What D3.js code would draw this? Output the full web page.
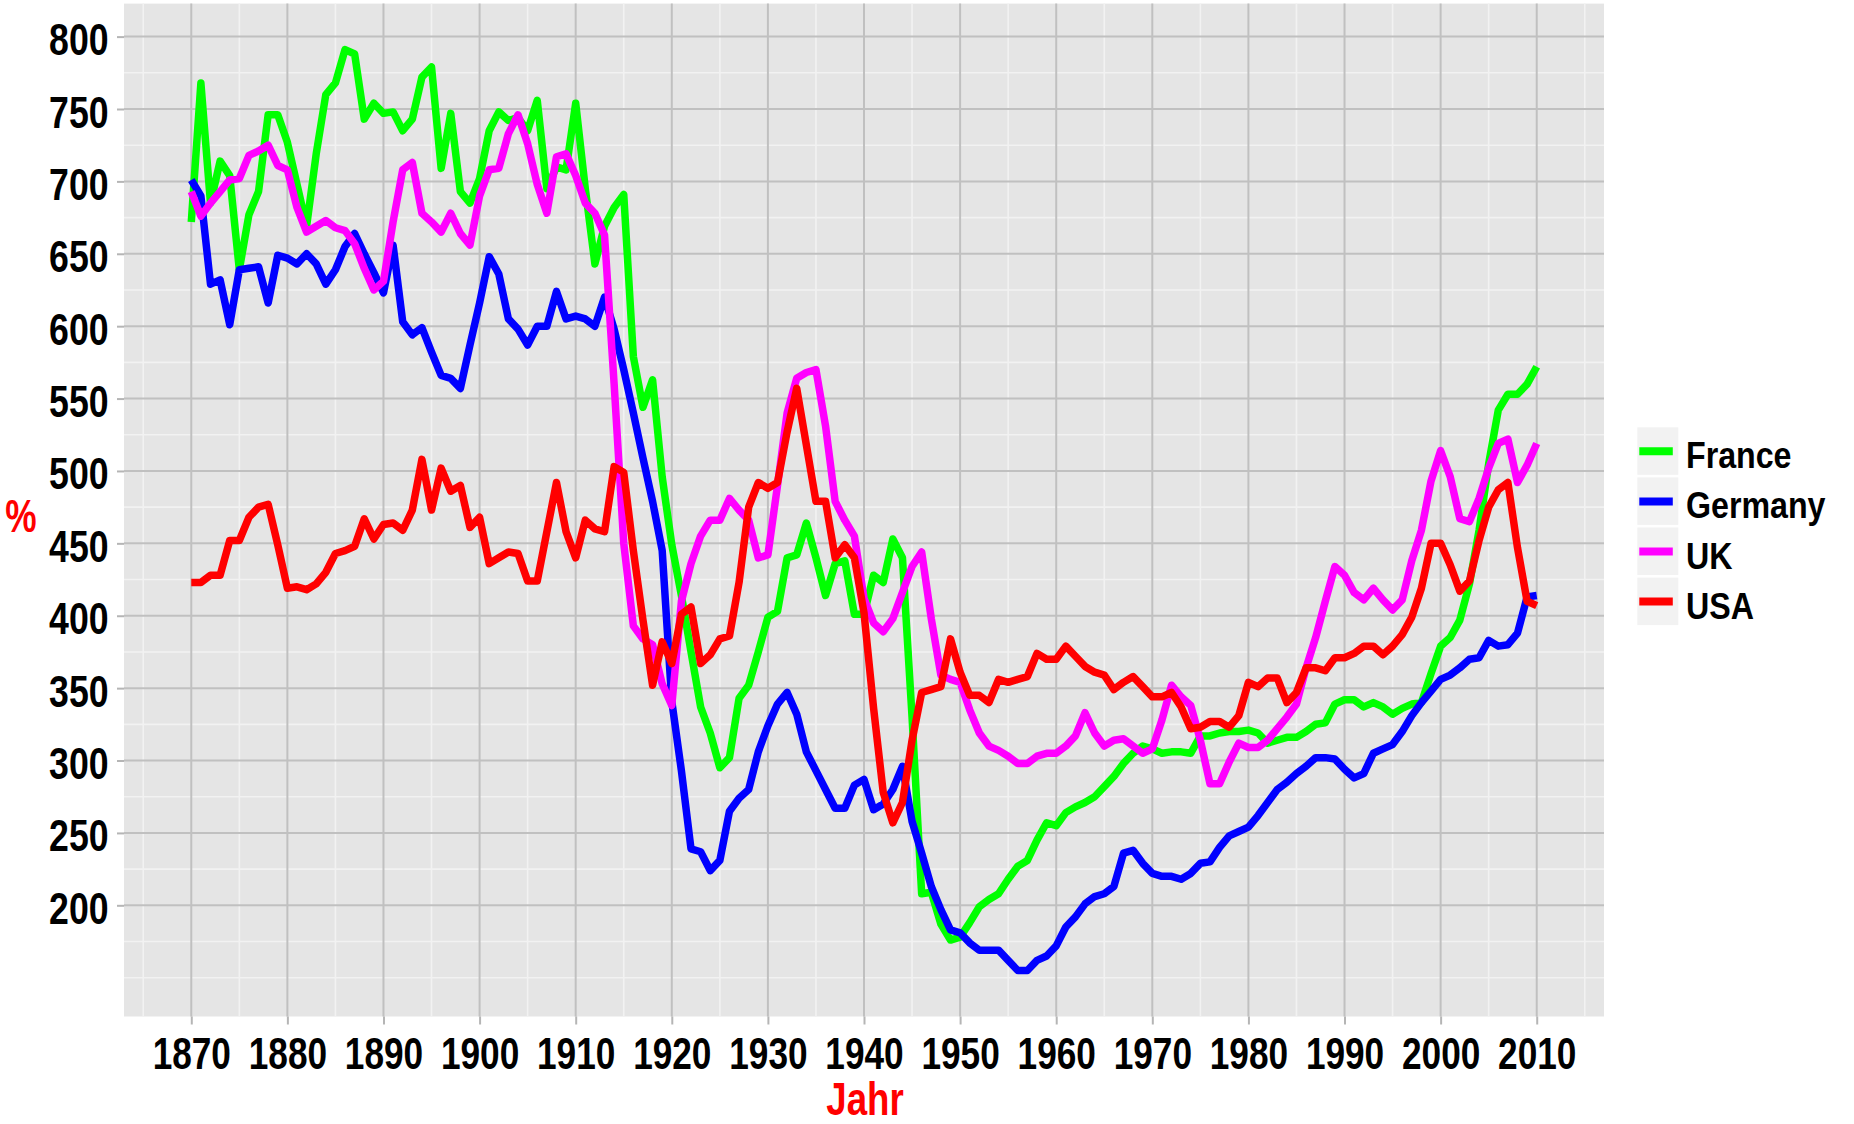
<!DOCTYPE html>
<html>
<head>
<meta charset="utf-8">
<script src="https://cdnjs.cloudflare.com/ajax/libs/d3/7.8.5/d3.min.js"></script>
<style>
  body { margin: 0; background: #fff; }
  svg text { font-family: "Liberation Sans", Arial, sans-serif; font-weight: bold; }
</style>
</head>
<body>
<svg id="chart"></svg>
<script>
// years on the x axis
var years = d3.range(1870, 2011);

// values, one per year 1870..2010
var france = [
  672, 768, 685, 714, 704, 639, 677, 693, 746, 746,
  727, 698, 669, 719, 760, 768, 791, 788, 743, 754,
  747, 748, 735, 743, 772, 779, 709, 747, 693, 685,
  702, 735, 748, 742, 744, 735, 756, 695, 710, 708,
  754, 695, 643, 669, 682, 691, 579, 544, 563, 496,
  449, 414, 375, 337, 319, 295, 302, 343, 352, 375,
  399, 403, 440, 442, 464, 440, 414, 436, 438, 401,
  401, 428, 423, 453, 440, 330, 208, 209, 187, 176,
  178, 188, 199, 204, 208, 218, 227, 231, 245, 257,
  255, 264, 268, 271, 275, 282, 289, 298, 305, 310,
  308, 305, 306, 306, 305, 317, 317, 319, 320, 320,
  321, 319, 312, 314, 316, 316, 320, 325, 326, 339,
  342, 342, 337, 340, 337, 332, 336, 339, 340, 360,
  379, 385, 397, 422, 459, 505, 542, 553, 553, 560,
  572
];
var germany = [
  701, 690, 629, 632, 601, 639, 640, 641, 616, 649,
  647, 643, 650, 643, 629, 639, 655, 664, 650, 637,
  623, 656, 603, 594, 599, 582, 566, 564, 557, 587,
  616, 648, 636, 605, 598, 587, 600, 600, 624, 605,
  607, 605, 600, 620, 598, 570, 540, 509, 479, 445,
  341, 293, 239, 237, 224, 231, 265, 274, 280, 306,
  324, 339, 347, 332, 306, 293, 280, 267, 267, 283,
  287, 266, 270, 280, 296, 258, 236, 213, 197, 183,
  181, 174, 169, 169, 169, 162, 155, 155, 162, 165,
  172, 185, 192, 201, 206, 208, 213, 236, 238, 229,
  222, 220, 220, 218, 222, 229, 230, 240, 248, 251,
  254, 262, 271, 280, 285, 291, 296, 302, 302, 301,
  294, 288, 291, 305, 308, 311, 320, 331, 340, 348,
  356, 359, 364, 370, 371, 383, 379, 380, 388, 413,
  414
];
var uk = [
  693, 676, 685, 693, 701, 702, 718, 721, 725, 711,
  708, 682, 665, 669, 673, 668, 666, 657, 640, 625,
  631, 672, 708, 713, 678, 672, 665, 678, 664, 656,
  690, 708, 709, 733, 746, 726, 698, 678, 717, 719,
  704, 685, 678, 663, 560, 450, 393, 384, 380, 353,
  338, 410, 436, 455, 466, 466, 481, 473, 466, 440,
  442, 490, 540, 564, 568, 570, 531, 479, 466, 455,
  412, 395, 389, 398, 416, 434, 444, 398, 359, 356,
  354, 335, 319, 310, 307, 303, 298, 298, 303, 305,
  305, 310, 317, 333, 319, 310, 314, 315, 310, 305,
  308, 328, 352, 344, 338, 314, 284, 284, 299, 312,
  309, 309, 314, 322, 330, 339, 364, 385, 410, 434,
  428, 416, 411, 419, 411, 404, 411, 438, 459, 493,
  514, 496, 467, 465, 481, 502, 519, 522, 492, 504,
  519
];
var usa = [
  423, 423, 428, 428, 452, 452, 468, 475, 477, 449,
  419, 420, 418, 422, 430, 443, 445, 448, 467, 453,
  463, 464, 459, 473, 508, 473, 502, 486, 490, 461,
  468, 436, 440, 444, 443, 424, 424, 458, 492, 458,
  440, 466, 460, 458, 503, 499, 445, 397, 352, 382,
  367, 401, 406, 367, 373, 384, 386, 423, 475, 492,
  488, 492, 527, 557, 518, 479, 479, 440, 449, 440,
  402, 336, 278, 257, 271, 314, 347, 349, 351, 384,
  361, 345, 345, 340, 356, 354, 356, 358, 374, 370,
  370, 379, 372, 365, 361, 359, 349, 354, 358, 351,
  344, 344, 347, 337, 322, 323, 327, 327, 323, 331,
  354, 351, 357, 357, 340, 347, 364, 364, 362, 371,
  371, 374, 379, 379, 373, 379, 387, 399, 419, 450,
  450, 435, 417, 424, 452, 475, 487, 492, 447, 410,
  407
];

var countries = ["France", "Germany", "UK", "USA"];
var colors = ["#00ff00", "#0000ff", "#ff00ff", "#ff0000"];
var seriesValues = [france, germany, uk, usa];

var xTicks = d3.range(1870, 2011, 10);
var yTicks = [200, 250, 300, 350, 400, 450, 500, 550, 600, 650, 700, 750, 800];

var width = 1854, height = 1124;
var panel = { left: 124, right: 1604, top: 3.6, bottom: 1016.5 };

var svg = d3.select("#chart")
  .attr("width", width)
  .attr("height", height);

svg.append("rect").attr("width", width).attr("height", height).attr("fill", "#fff");

// ggplot style 5% expansion on both scales
var allValues = d3.merge(seriesValues);
var yExt = d3.extent(allValues);
var yPad = (yExt[1] - yExt[0]) * 0.05;
var xExt = d3.extent(years);
var xPad = (xExt[1] - xExt[0]) * 0.05;

var x = d3.scaleLinear()
  .domain([xExt[0] - xPad, xExt[1] + xPad])
  .range([panel.left, panel.right]);

var y = d3.scaleLinear()
  .domain([yExt[0] - yPad, yExt[1] + yPad])
  .range([panel.bottom, panel.top]);

// panel background
svg.append("rect")
  .attr("x", panel.left)
  .attr("y", panel.top)
  .attr("width", panel.right - panel.left)
  .attr("height", panel.bottom - panel.top)
  .attr("fill", "#e5e5e5");

// minor grid (white), halfway between the majors
var xMinor = xTicks.map(function(d) { return d - 5; }).concat([xTicks[xTicks.length - 1] + 5]);
var yMinor = [yTicks[0] - 50].concat(yTicks.map(function(d) { return d - 25; }).slice(1));
yMinor.push(yTicks[0] - 25);

var grid = svg.append("g");
grid.selectAll(".xminor")
  .data(xMinor)
  .enter()
  .append("line")
  .attr("x1", function(d) { return x(d); })
  .attr("x2", function(d) { return x(d); })
  .attr("y1", panel.top)
  .attr("y2", panel.bottom)
  .attr("stroke", "#f2f2f2")
  .attr("stroke-width", 1.6);

grid.selectAll(".yminor")
  .data(yMinor)
  .enter()
  .append("line")
  .attr("x1", panel.left)
  .attr("x2", panel.right)
  .attr("y1", function(d) { return y(d); })
  .attr("y2", function(d) { return y(d); })
  .attr("stroke", "#f2f2f2")
  .attr("stroke-width", 1.6);

// major grid (grey)
grid.selectAll(".xmajor")
  .data(xTicks)
  .enter()
  .append("line")
  .attr("x1", function(d) { return x(d); })
  .attr("x2", function(d) { return x(d); })
  .attr("y1", panel.top)
  .attr("y2", panel.bottom)
  .attr("stroke", "#c0c0c0")
  .attr("stroke-width", 2);

grid.selectAll(".ymajor")
  .data(yTicks)
  .enter()
  .append("line")
  .attr("x1", panel.left)
  .attr("x2", panel.right)
  .attr("y1", function(d) { return y(d); })
  .attr("y2", function(d) { return y(d); })
  .attr("stroke", "#c0c0c0")
  .attr("stroke-width", 2);

// lines
var line = d3.line()
  .x(function(d, i) { return x(years[i]); })
  .y(function(d) { return y(d); });

svg.append("g")
  .selectAll("path")
  .data(seriesValues)
  .enter()
  .append("path")
  .attr("d", line)
  .attr("fill", "none")
  .attr("stroke", function(d, i) { return colors[i]; })
  .attr("stroke-width", 7.5)
  .attr("stroke-linejoin", "round");

// axes
var xAxis = svg.append("g")
  .attr("transform", "translate(0," + panel.bottom + ")")
  .call(d3.axisBottom(x).tickValues(xTicks).tickSize(8).tickFormat(d3.format("d")));

var yAxis = svg.append("g")
  .attr("transform", "translate(" + panel.left + ",0)")
  .call(d3.axisLeft(y).tickValues(yTicks).tickSize(7).tickFormat(d3.format("d")));

[xAxis, yAxis].forEach(function(ax) {
  ax.select(".domain").remove();
  ax.selectAll(".tick line").attr("stroke", "#b5b5b5").attr("stroke-width", 2);
  ax.selectAll(".tick text")
    .attr("fill", "#000")
    .style("font-size", "44px");
});

xAxis.selectAll(".tick text")
  .attr("x", 0)
  .attr("y", 0)
  .attr("dy", null)
  .attr("text-anchor", "middle")
  .attr("transform", "translate(0,52.5) scale(0.8,1)");

yAxis.selectAll(".tick text")
  .attr("x", 0)
  .attr("y", 0)
  .attr("dy", null)
  .attr("text-anchor", "end")
  .attr("transform", "translate(-15.5,18) scale(0.81,1)");

// axis titles
svg.append("text")
  .attr("transform", "translate(" + ((panel.left + panel.right) / 2 + 1) + ",1115) scale(0.78,1)")
  .attr("text-anchor", "middle")
  .attr("fill", "#ff0000")
  .style("font-size", "47px")
  .text("Jahr");

svg.append("text")
  .attr("transform", "translate(21,532) scale(0.75,1)")
  .attr("text-anchor", "middle")
  .attr("fill", "#ff0000")
  .style("font-size", "47px")
  .text("%");

// legend
var legend = svg.append("g")
  .selectAll("g")
  .data(countries)
  .enter()
  .append("g")
  .attr("transform", function(d, i) { return "translate(1637.3," + (427.3 + i * 50.1) + ")"; });

legend.append("rect")
  .attr("width", 41)
  .attr("height", 47.5)
  .attr("fill", "#f2f2f2");

legend.append("line")
  .attr("x1", 2)
  .attr("x2", 35.5)
  .attr("y1", 24)
  .attr("y2", 24)
  .attr("stroke", function(d, i) { return colors[i]; })
  .attr("stroke-width", 8);

legend.append("text")
  .attr("transform", "translate(48.7,41) scale(0.87,1)")
  .attr("fill", "#000")
  .style("font-size", "37px")
  .text(function(d) { return d; });
</script>
</body>
</html>
